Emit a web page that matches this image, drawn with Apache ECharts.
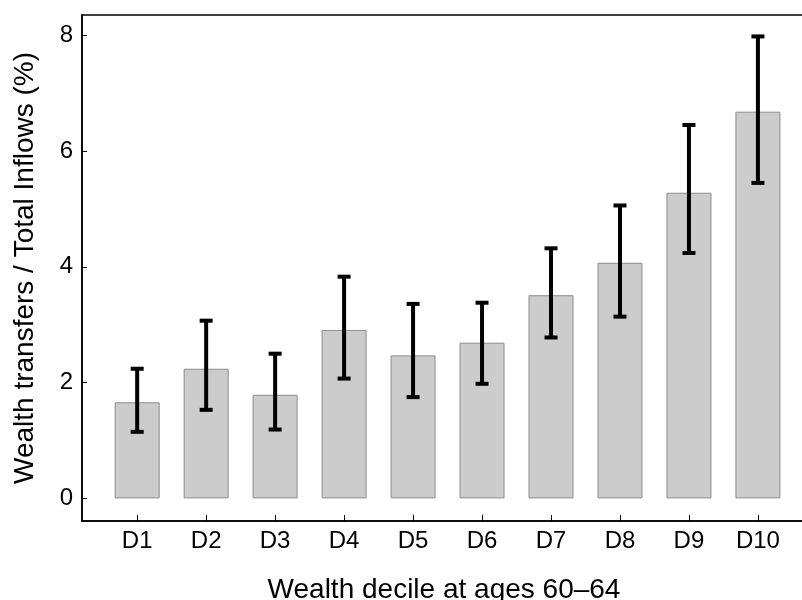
<!DOCTYPE html>
<html>
<head>
<meta charset="utf-8">
<script src="https://cdn.jsdelivr.net/npm/echarts@6/dist/echarts.min.js"></script>
<style>
html,body{margin:0;padding:0;background:#fff;}
#chart{width:802px;height:600px;}
</style>
</head>
<body>
<div id="chart"></div>
<script>
var categories = ['D1','D2','D3','D4','D5','D6','D7','D8','D9','D10'];
var shareValues = [1.66, 2.24, 1.79, 2.91, 2.47, 2.69, 3.51, 4.07, 5.28, 6.68];
var ciLower = [1.15, 1.53, 1.19, 2.07, 1.75, 1.98, 2.78, 3.14, 4.24, 5.45];
var ciUpper = [2.24, 3.07, 2.50, 3.83, 3.36, 3.38, 4.32, 5.06, 6.45, 7.98];
var yTicks = [0, 2, 4, 6, 8];
var xTitle = 'Wealth decile at ages 60\u201364';
var yTitle = 'Wealth transfers / Total Inflows (%)';

var positions = categories.map(function (c, i) { return i + 1; });
var barData = positions.map(function (p, i) { return [p, shareValues[i]]; });
var errData = positions.map(function (p, i) { return [p, ciLower[i], ciUpper[i]]; });

var font = '"Liberation Sans", Arial, sans-serif';
var chart = echarts.init(document.getElementById('chart'), null, {renderer: 'canvas'});
chart.setOption({
  animation: false,
  backgroundColor: '#ffffff',
  grid: {
    left: 82, top: 15, right: -4, bottom: 79,
    outerBoundsMode: 'none', containLabel: false,
    show: true, borderColor: '#000', borderWidth: 1.5, backgroundColor: 'transparent'
  },
  xAxis: {
    type: 'value',
    min: 0.2, max: 10.697,
    splitLine: {show: false},
    axisLine: {show: true, onZero: false, lineStyle: {color: '#000', width: 1.5}},
    axisTick: {show: true, inside: true, length: 6, lineStyle: {color: '#000', width: 1}, customValues: positions},
    axisLabel: {
      customValues: positions,
      color: '#000', fontSize: 24, fontFamily: font, margin: 8,
      formatter: function (v) { return categories[Math.round(v) - 1] || ''; }
    },
    name: xTitle, nameLocation: 'middle', nameGap: 55,
    nameTextStyle: {color: '#000', fontSize: 28, fontFamily: font}
  },
  yAxis: {
    type: 'value',
    min: -0.39, max: 8.35,
    splitLine: {show: false},
    axisLine: {show: true, onZero: false, lineStyle: {color: '#000', width: 1.5}},
    axisTick: {show: true, inside: true, length: 5, lineStyle: {color: '#000', width: 1}, customValues: yTicks},
    axisLabel: {
      customValues: yTicks,
      color: '#000', fontSize: 24, fontFamily: font, margin: 9,
      formatter: function (v) { return String(v); }
    },
    name: yTitle, nameLocation: 'middle', nameGap: 43,
    nameTextStyle: {color: '#000', fontSize: 28, fontFamily: font}
  },
  series: [
    {
      type: 'bar',
      data: barData,
      barWidth: 45,
      itemStyle: {color: '#cccccc', borderColor: '#8c8c8c', borderWidth: 1}
    },
    {
      type: 'custom',
      data: errData,
      z: 10,
      renderItem: function (params, api) {
        var x = api.value(0);
        var lo = api.coord([x, api.value(1)]);
        var hi = api.coord([x, api.value(2)]);
        var hw = 6.5;
        var style = {stroke: '#000', lineWidth: 4, fill: null};
        return {
          type: 'group',
          children: [
            {type: 'line', shape: {x1: lo[0], y1: lo[1], x2: hi[0], y2: hi[1]}, style: style},
            {type: 'line', shape: {x1: lo[0] - hw, y1: lo[1], x2: lo[0] + hw, y2: lo[1]}, style: style},
            {type: 'line', shape: {x1: hi[0] - hw, y1: hi[1], x2: hi[0] + hw, y2: hi[1]}, style: style}
          ]
        };
      }
    }
  ]
});
</script>
</body>
</html>
